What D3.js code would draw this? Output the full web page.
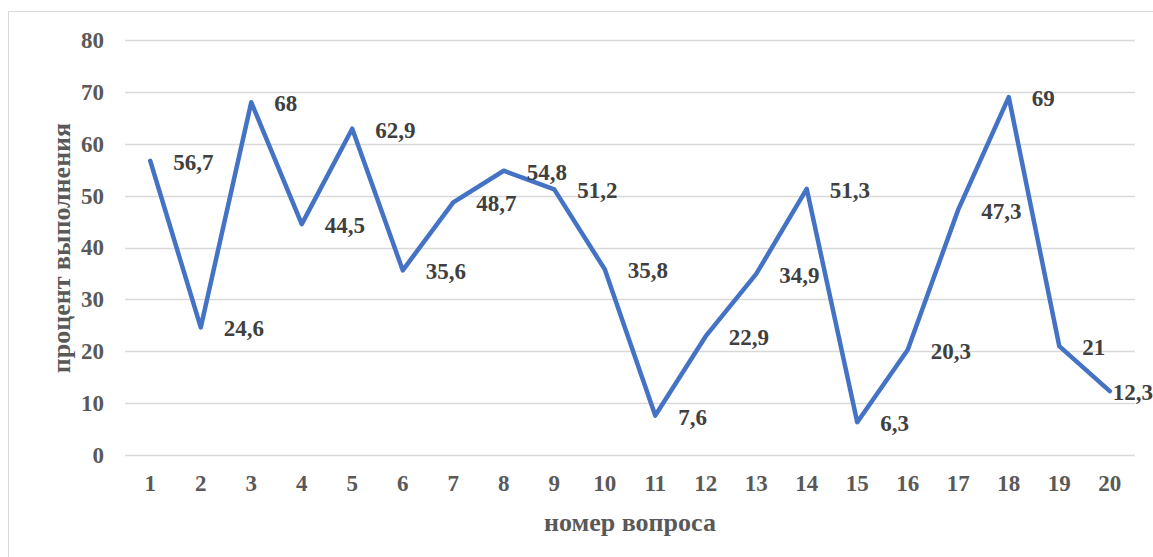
<!DOCTYPE html>
<html><head><meta charset="utf-8">
<script src="https://cdn.jsdelivr.net/npm/d3@7"></script>
<style>
html,body{margin:0;padding:0;background:#fff;}
svg{display:block;}
text{font-family:"Liberation Serif","Times New Roman",serif;font-weight:bold;}
</style></head>
<body>
<svg id="chart" width="1153" height="557"></svg>
<script>
const categories = ["1","2","3","4","5","6","7","8","9","10","11","12","13","14","15","16","17","18","19","20"];
const values = [56.7,24.6,68,44.5,62.9,35.6,48.7,54.8,51.2,35.8,7.6,22.9,34.9,51.3,6.3,20.3,47.3,69,21,12.3];
const valueLabels = ["56,7","24,6","68","44,5","62,9","35,6","48,7","54,8","51,2","35,8","7,6","22,9","34,9","51,3","6,3","20,3","47,3","69","21","12,3"];
const yTicks = [0,10,20,30,40,50,60,70,80];
const xTitle = "номер вопроса";
const yTitle = "процент выполнения";

const svg = d3.select("#chart");
const W = 1153, H = 557;
const plot = {left:125, right:1135, top:40, bottom:455};
const numFont = 23, titleFont = 26;

svg.append("rect").attr("x",8.5).attr("y",11.5).attr("width",W+10).attr("height",H+10)
  .attr("fill","#fff").attr("stroke","#d9d9d9").attr("stroke-width",1);

const x = d3.scaleBand().domain(categories).range([plot.left, plot.right]);
const y = d3.scaleLinear().domain([0,80]).range([plot.bottom, plot.top]);
const cx = c => x(c) + x.bandwidth()/2;

// gridlines
svg.append("g").selectAll("line").data(yTicks).join("line")
  .attr("x1",plot.left).attr("x2",plot.right)
  .attr("y1",d=>Math.round(y(d))+0.5).attr("y2",d=>Math.round(y(d))+0.5)
  .attr("stroke","#d9d9d9").attr("stroke-width",1.5);

// y axis labels
const yAxis = d3.axisLeft(y).tickValues(yTicks).tickSize(0).tickPadding(0);
const gy = svg.append("g").attr("transform","translate(104,0)").call(yAxis);
gy.select(".domain").remove();
gy.selectAll("text").attr("font-size",numFont).attr("fill","#595959")
  .attr("font-family","Liberation Serif").attr("font-weight","bold");

// x axis labels
const xAxis = d3.axisBottom(x).tickSize(0).tickPadding(0);
const gx = svg.append("g").attr("transform",`translate(0,483)`).call(xAxis);
gx.select(".domain").remove();
gx.selectAll("text").attr("dy","0.35em").attr("font-size",numFont).attr("fill","#595959")
  .attr("font-family","Liberation Serif").attr("font-weight","bold");

// line
const line = d3.line().x((d,i)=>cx(categories[i])).y(d=>y(d));
svg.append("path").datum(values).attr("d",line)
  .attr("fill","none").attr("stroke","#4472C4").attr("stroke-width",4.5)
  .attr("stroke-linejoin","round").attr("stroke-linecap","round");

// data labels
svg.append("g").selectAll("text").data(values).join("text")
  .attr("x",(d,i)=> i === values.length-1 ? cx(categories[i])+3 : cx(categories[i])+23)
  .attr("y",d=>y(d)+1)
  .attr("dy","0.35em")
  .attr("font-size",numFont).attr("fill","#404040")
  .text((d,i)=>valueLabels[i]);

// axis titles
svg.append("text").attr("x",630).attr("y",522).attr("dy","0.35em")
  .attr("text-anchor","middle").attr("font-size",titleFont).attr("fill","#595959").text(xTitle);
svg.append("text").attr("transform","translate(61,248) rotate(-90)").attr("dy","0.35em")
  .attr("text-anchor","middle").attr("font-size",titleFont).attr("fill","#595959").text(yTitle);
</script>
</body></html>
